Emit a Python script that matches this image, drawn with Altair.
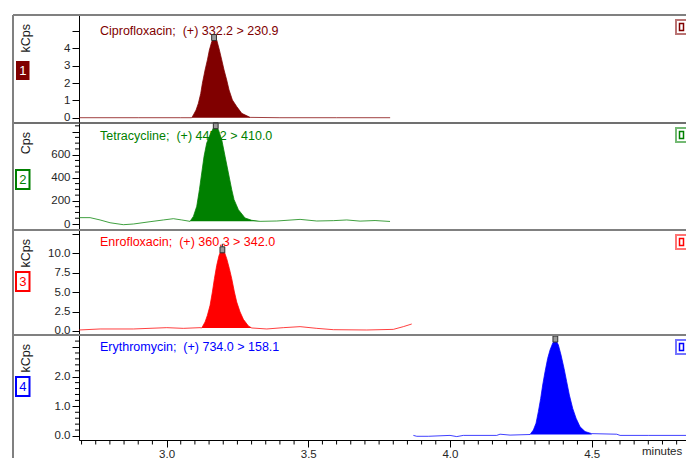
import altair as alt
import pandas as pd

# ---------------- data ----------------
COMPOUNDS = ["Ciprofloxacin", "Tetracycline", "Enrofloxacin", "Erythromycin"]
TRANSITIONS = ["(+) 332.2 > 230.9", "(+) 445.2 > 410.0", "(+) 360.3 > 342.0", "(+) 734.0 > 158.1"]
UNITS = ["kCps", "Cps", "kCps", "kCps"]
BADGES = ["1", "2", "3", "4"]
COLORS = ["#800000", "#008000", "#ff0000", "#0000ff"]

CIP_T = [2.691, 2.90, 3.05, 3.0888, 3.0947, 3.1041, 3.1123, 3.1206, 3.1264, 3.1359, 3.1441,
         3.1511, 3.1594, 3.1676, 3.1770, 3.1864, 3.1947, 3.2029, 3.2123, 3.2205, 3.2323,
         3.2476, 3.2653, 3.2946, 3.40, 3.60, 3.789]
CIP_V = [0, 0, 0, 0, 0.16, 0.44, 0.83, 1.40, 1.98, 2.75, 3.33,
         3.90, 4.38, 4.62, 4.48, 3.90, 3.33, 2.75, 2.17, 1.60, 1.02,
         0.64, 0.25, 0.02, 0, 0, 0]

TET_T = [2.691, 2.7301, 2.7654, 2.8006, 2.8476, 2.8829, 2.9418, 2.9888, 3.024, 3.0536, 3.0829,
         3.0947, 3.1065, 3.1159, 3.1241, 3.1323, 3.1417, 3.1535, 3.1653, 3.1735, 3.1829,
         3.1947, 3.2064, 3.2182, 3.2300, 3.2382, 3.2535, 3.2770, 3.3005, 3.3299,
         3.3889, 3.4711, 3.530, 3.5886, 3.6359, 3.6828, 3.7357, 3.7886]
TET_V = [55, 55, 35, 11, -6, 0, 20, 35, 46, 35, 23,
         66, 153, 297, 442, 586, 701, 773, 831, 851, 817,
         730, 586, 442, 297, 211, 124, 52, 32, 23,
         26, 40, 26, 29, 35, 25, 30, 22]

ENR_T = [2.691, 2.7654, 2.8829, 3.0007, 3.0593, 3.1182, 3.1241,
         3.1359, 3.1441, 3.1535, 3.1617, 3.1688, 3.1770, 3.1853, 3.1911, 3.1970, 3.2041,
         3.2123, 3.2217, 3.2300, 3.2394, 3.2476, 3.2594, 3.2711, 3.2888, 3.3005,
         3.3536, 3.4121, 3.4711, 3.530, 3.5886, 3.7064, 3.8003, 3.8356, 3.8652]
ENR_V = [0.13, 0.26, 0.26, 0.43, 0.34, 0.43, 0.39,
         1.16, 2.02, 3.30, 5.02, 6.73, 8.45, 9.74, 10.25, 10.45, 10.17,
         9.31, 8.02, 6.73, 5.02, 3.73, 2.45, 1.50, 0.64, 0.39,
         0.26, 0.43, 0.56, 0.34, 0.17, 0.13, 0.21, 0.56, 0.90]

ERY_T = [3.8709, 3.8828, 3.9238, 4.0003, 4.0240, 4.0473, 4.1651, 4.1768, 4.2121, 4.2827,
         4.2944, 4.3038, 4.3120, 4.3203, 4.3273, 4.3356, 4.3450, 4.3532, 4.3626, 4.3720,
         4.3826, 4.3920, 4.4026, 4.4120, 4.4214, 4.4332, 4.4450, 4.4591, 4.4767, 4.5002,
         4.5886, 4.6003, 4.70, 4.8613]
ERY_V = [0.02, -0.01, -0.01, 0.02, -0.02, 0.02, 0.02, 0.06, 0.03, 0.05,
         0.20, 0.43, 0.82, 1.27, 1.72, 2.17, 2.62, 2.90, 3.13, 3.27,
         3.07, 2.73, 2.28, 1.83, 1.38, 0.93, 0.60, 0.31, 0.15, 0.08,
         0.06, 0.02, 0.02, 0.02]

TRACES = [(CIP_T, CIP_V), (TET_T, TET_V), (ENR_T, ENR_V), (ERY_T, ERY_V)]
PEAK_WINDOWS = [(3.0888, 3.2946), (3.0829, 3.3299), (3.1241, 3.3005), (4.2827, 4.5002)]
PEAK_BASE = [0, 23, 0.39, 0.05]

X_DOMAIN = [2.691, 4.833]
X_MAJOR = [3.0, 3.5, 4.0, 4.5]
X_MINOR = [2.70, 2.75, 2.80, 2.85, 2.90, 2.95, 3.05, 3.10, 3.15, 3.20, 3.25, 3.30, 3.35, 3.40,
           3.45, 3.55, 3.60, 3.65, 3.70, 3.75, 3.80, 3.85, 3.90, 3.95, 4.05, 4.10, 4.15, 4.20,
           4.25, 4.30, 4.35, 4.40, 4.45, 4.55, 4.60, 4.65, 4.70, 4.75, 4.80]
Y_DOMAINS = [[-0.305, 5.919], [-51.9, 874.5], [-0.515, 13.0], [-0.135, 3.406]]
Y_MAJOR = [[0, 1, 2, 3, 4, 5], [0, 200, 400, 600, 800], [0, 2.5, 5, 7.5, 10, 12.5], [0, 1, 2, 3]]
Y_HIDE = [5, 800, 12.5, 3]
Y_FORMAT = ["d", "d", ".1f", ".1f"]
Y_MINOR = [[], [50, 100, 150, 250, 300, 350, 450, 500, 550, 650, 700, 750, 850], [],
           [0.2, 0.4, 0.6, 0.8, 1.2, 1.4, 1.6, 1.8, 2.2, 2.4, 2.6, 2.8, 3.2]]

# ---------------- layout (pixels, relative to plot origin) ----------------
W, H = 607, 425
PANEL_TOP = [0, 108, 215, 320]
PANEL_BOT = [108, 215, 320, 425]
TITLE_BASE = [19.5, 16.5, 16, 16]
BADGE_OFF = [46, 47, 42, 42]
SEP_STYLE = [("#808080", 2), ("#404040", 1.5), ("#808080", 2), ("#808080", 2)]
MARKER_SHAPES = ["M-0.8,-1H0.8V1H-0.8Z", "M-0.8,-1H0.8V1H-0.8Z",
                 "M0,-1V-2M-0.8,-1H0.8V1H-0.8Z", "M-0.8,-1H0.8V1H-0.8Z"]
FONT = "Liberation Sans"
ONE = pd.DataFrame({"k": [0]})

xscale = alt.Scale(domain=X_DOMAIN, nice=False, zero=False)
xaxis = alt.Axis(orient="bottom", values=X_MAJOR, format=".1f", title=None, grid=False,
                 domainColor="black", tickColor="black", tickSize=7, labelPadding=1,
                 labelFontSize=11.5, labelFont=FONT, labelColor="#262626",
                 labelFlush=False, labelOverlap=False)


def X(field):
    return alt.X(field, scale=xscale, axis=xaxis)


layers = []
for i, (tt, vv) in enumerate(TRACES):
    col = COLORS[i]
    top, bot = PANEL_TOP[i], PANEL_BOT[i]
    df = pd.DataFrame({"t": tt, "v": vv})
    lo, hi = PEAK_WINDOWS[i]
    pk = df[(df.t >= lo) & (df.t <= hi)].copy()
    pk["b"] = PEAK_BASE[i]
    apex = df.loc[[df.v.idxmax()]]
    yscale = alt.Scale(domain=Y_DOMAINS[i], range=[bot, top], nice=False, zero=False)
    yaxis = alt.Axis(orient="left", values=Y_MAJOR[i], title=None, grid=False,
                     domainColor="black", tickColor="black", tickSize=7, labelPadding=2,
                     labelFontSize=11.5, labelFont=FONT, labelColor="#262626",
                     labelOverlap=False, labelFlush=False, labelBound=False,
                     format=Y_FORMAT[i],
                     labelExpr=f"datum.value >= {Y_HIDE[i]} ? '' : datum.label")

    def Y(field):
        return alt.Y(field, scale=yscale, axis=yaxis)

    title = alt.Chart(ONE).mark_text(align="left", baseline="alphabetic", font=FONT,
                                     fontSize=12.5, color=col).encode(
        x=alt.value(21), y=alt.value(top + TITLE_BASE[i]),
        text=alt.value(f"{COMPOUNDS[i]};\u00a0 {TRANSITIONS[i]}"))
    line = alt.Chart(df).mark_line(color=col, strokeWidth=1, opacity=0.75, clip=True).encode(
        x=X("t:Q"), y=Y("v:Q"))
    area = alt.Chart(pk).mark_area(color=col, opacity=1, clip=True).encode(
        x=X("t:Q"), y=Y("v:Q"), y2="b:Q")
    marker = alt.Chart(apex).mark_point(shape=MARKER_SHAPES[i], size=36, filled=True,
                                        fill="#9a9a9a", stroke="#303030", strokeWidth=1,
                                        opacity=1).encode(
        x=X("t:Q"), y=Y("v:Q"))
    parts = [line, title, area, marker]
    if Y_MINOR[i]:
        mdf = pd.DataFrame({"m": Y_MINOR[i]})
        parts.append(alt.Chart(mdf).mark_rule(color="black", strokeWidth=1).encode(
            y=Y("m:Q"), x=alt.value(-4), x2=alt.value(0)))
    layers.append(alt.layer(*parts))

# decorations: frame, separators, unit labels, badges, right-hand markers
deco = []
for i in range(4):
    col = COLORS[i]
    top = PANEL_TOP[i]
    sc, sw = SEP_STYLE[i]
    deco.append(alt.Chart(ONE).mark_rule(color=sc, strokeWidth=sw).encode(
        x=alt.value(-66), x2=alt.value(W + 5), y=alt.value(top)))
    deco.append(alt.Chart(ONE).mark_text(align="right", baseline="middle", angle=270,
                                         font=FONT, fontSize=12.5, color="#1a1a1a").encode(
        x=alt.value(-53), y=alt.value(top + 9), text=alt.value(UNITS[i])))
    b0 = top + BADGE_OFF[i]
    filled = (i == 0)
    deco.append(alt.Chart(ONE).mark_rect(fill=col if filled else "white", stroke=col,
                                         strokeWidth=0 if filled else 2).encode(
        x=alt.value(-63), x2=alt.value(-49.5), y=alt.value(b0), y2=alt.value(b0 + 19)))
    deco.append(alt.Chart(ONE).mark_text(align="center", baseline="middle", font=FONT,
                                         fontSize=13, color="white" if filled else col).encode(
        x=alt.value(-56.2), y=alt.value(b0 + 10), text=alt.value(BADGES[i])))
    deco.append(alt.Chart(ONE).mark_rect(fill="white", stroke=col, strokeWidth=2,
                                         strokeOpacity=0.55).encode(
        x=alt.value(W - 10), x2=alt.value(W + 10), y=alt.value(top + 5), y2=alt.value(top + 19)))
    deco.append(alt.Chart(ONE).mark_rect(fill="white", stroke=col, strokeWidth=1.5).encode(
        x=alt.value(W - 6.5), x2=alt.value(W - 2.5), y=alt.value(top + 8.5),
        y2=alt.value(top + 15.5)))

deco.append(alt.Chart(ONE).mark_rule(color="#808080", strokeWidth=2).encode(
    x=alt.value(-66), y=alt.value(0), y2=alt.value(H + 40)))
xm = pd.DataFrame({"m": X_MINOR})
deco.append(alt.Chart(xm).mark_rule(color="black", strokeWidth=1).encode(
    x=X("m:Q"), y=alt.value(H), y2=alt.value(H + 4.5)))
deco.append(alt.Chart(ONE).mark_text(align="left", baseline="top", font=FONT, fontSize=11.5,
                                     color="#262626").encode(
    x=alt.value(563), y=alt.value(431), text=alt.value("minutes")))

chart = alt.layer(*layers, *deco).resolve_scale(y="independent").properties(
    width=W, height=H,
    autosize=alt.AutoSizeParams(type="none"),
    padding={"left": 71, "top": 7, "right": 0, "bottom": 18},
).configure_view(stroke=None).configure(background="white")

chart.save("out.html", embed_options={"renderer": "svg", "actions": False})
